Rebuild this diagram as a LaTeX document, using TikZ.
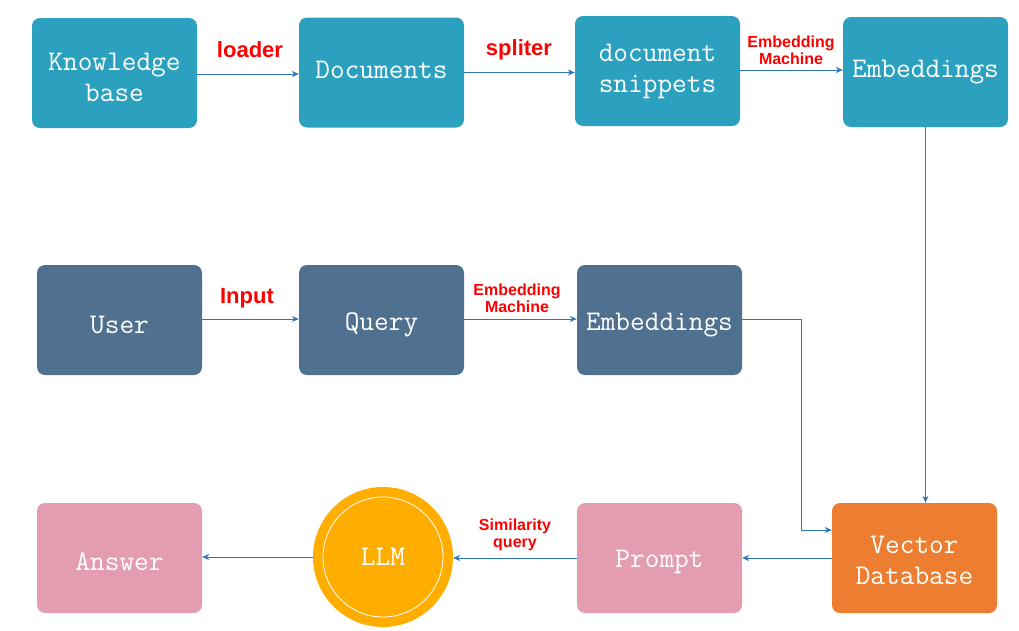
\documentclass[tikz,border=0pt]{standalone}
\usepackage{fontspec}
\newfontfamily\labfont{Liberation Sans}
\usetikzlibrary{arrows.meta}
\definecolor{teal1}{HTML}{2CA1BF}
\definecolor{navy1}{HTML}{50708F}
\definecolor{pink1}{HTML}{E49CB1}
\definecolor{orange1}{HTML}{ED7D31}
\definecolor{gold1}{HTML}{FFAE00}
\definecolor{arrowblue}{HTML}{2E75B6}
\definecolor{labred}{HTML}{FF0000}
\newcommand{\shifttext}[2]{\raisebox{#1}[\height][\depth]{#2}}
\tikzset{
  box/.style={rounded corners=8pt, minimum width=165pt, minimum height=110pt, text=white,
    font=\ttfamily\fontsize{28.5}{31}\selectfont, align=center, inner sep=0pt, draw=none},
  tealbox/.style={box, fill=teal1},
  navybox/.style={box, fill=navy1},
  pinkbox/.style={box, fill=pink1},
  orangebox/.style={box, fill=orange1},
  arr/.style={draw=arrowblue, line width=1pt, -{Stealth[length=7pt,width=6pt]}},
  biglab/.style={text=labred, font=\labfont\bfseries\fontsize{22}{24}\selectfont, inner sep=1pt},
  smalllab/.style={text=labred, font=\labfont\bfseries\fontsize{16}{17}\selectfont, align=center, inner sep=1pt},
}
\begin{document}
\begin{tikzpicture}[x=1pt,y=-1pt]
\useasboundingbox (0,0) rectangle (1019,630);
% row 1
\node[tealbox] (kb) at (114.5,73) {\rule{0pt}{26pt}Knowledge\\base};
\node[tealbox] (docs) at (381.5,72.5) {\shifttext{3pt}{Documents}};
\node[tealbox] (snip) at (657.5,71) {document\\snippets};
\node[tealbox] (emb1) at (925.5,72) {Embeddings};
% row 2
\node[navybox] (user) at (119.5,320) {\shifttext{-5pt}{User}};
\node[navybox] (query) at (381.5,320) {\shifttext{-5pt}{Query}};
\node[navybox] (emb2) at (659.5,320) {\shifttext{-5pt}{Embeddings}};
% row 3
\node[pinkbox] (answer) at (119.5,558) {\shifttext{-4pt}{Answer}};
\node[pinkbox] (prompt) at (659.5,558) {\shifttext{-4pt}{Prompt}};
\node[orangebox] (vdb) at (914.5,558) {\rule{0pt}{23pt}Vector\\Database};
\node[circle, fill=gold1, minimum size=140pt, inner sep=0pt, text=white,
  font=\ttfamily\fontsize{28.5}{31}\selectfont] (llm) at (383,557) {LLM};
\draw[white, line width=0.8pt] (llm.center) circle[radius=60pt];
% row 1 connectors
\draw[arr] ([yshift=-1pt]kb.east) -- ([yshift=-1pt]kb.east -| docs.west);
\draw[arr] (docs.east) -- (docs.east -| snip.west);
\draw[arr] ([yshift=1pt]snip.east) -- ([yshift=1pt]snip.east -| emb1.west);
\draw[arr] (emb1.south) -- (emb1.south |- vdb.north);
% row 2 connectors
\draw[arr] ([yshift=1pt]user.east) -- ([yshift=1pt]user.east -| query.west);
\draw[arr] ([yshift=1pt]query.east) -- ([yshift=1pt]query.east -| emb2.west);
\coordinate (bend) at (801,530);
\draw[arr] ([yshift=1pt]emb2.east) -| (bend) -- (bend -| vdb.west);
% row 3 connectors
\draw[arr] (vdb.west) -- (vdb.west -| prompt.east);
\draw[arr] (prompt.west) -- (prompt.west -| llm.east);
\draw[arr] (llm.west) -- (llm.west -| answer.east);
% labels
\node[biglab] (l1) at (250,50) {loader};
\node[biglab] (l2) at (519,50) {spliter};
\node[smalllab] (l3) at (791,50) {Embedding\\Machine};
\node[biglab] (l4) at (247,298) {Input};
\node[smalllab] (l5) at (517,298) {Embedding\\Machine};
\node[smalllab] (l6) at (515,535) {Similarity\\query};
\end{tikzpicture}
\end{document}
